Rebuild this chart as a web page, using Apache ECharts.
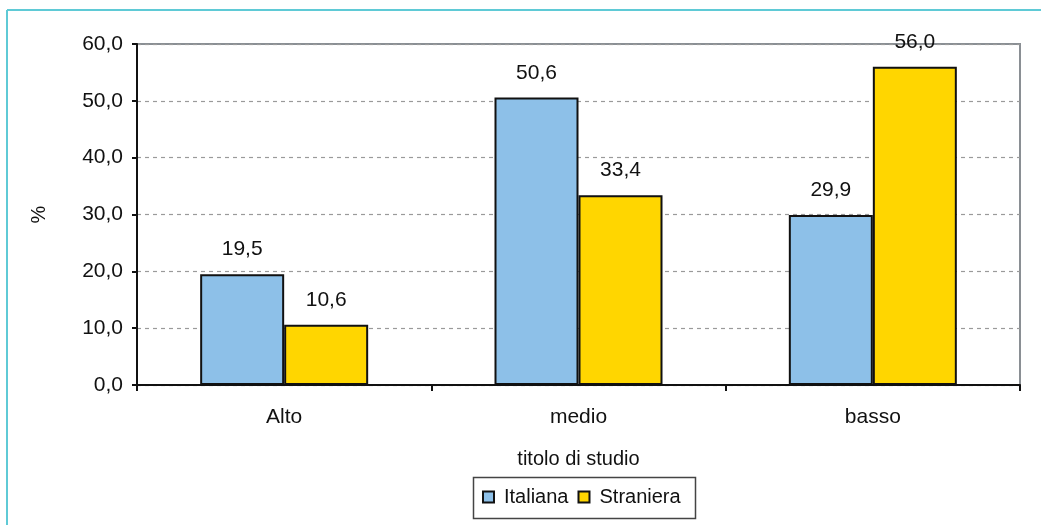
<!DOCTYPE html>
<html>
<head>
<meta charset="utf-8">
<script src="https://cdn.jsdelivr.net/npm/echarts@6/dist/echarts.min.js"></script>
<style>
  html, body { margin: 0; padding: 0; background: #ffffff; }
  #chart { width: 1041px; height: 525px; }
</style>
</head>
<body>
<div id="chart"></div>
<script>
// Titolo di studio: quota percentuale per cittadinanza
const categories = ['Alto', 'medio', 'basso'];
const italiana = [19.5, 50.6, 29.9];
const straniera = [10.6, 33.4, 56.0];
const seriesNames = ['Italiana', 'Straniera'];

const FONT = '"Liberation Sans", Arial, sans-serif';
const fmt = v => Number(v).toFixed(1).replace('.', ',');

const chart = echarts.init(document.getElementById('chart'), null, { renderer: 'canvas' });

const barStyle = color => ({ color: color, borderColor: '#111111', borderWidth: 2 });

chart.setOption({
  animation: false,
  backgroundColor: '#ffffff',
  textStyle: { fontFamily: FONT },
  grid: {
    left: 137, right: 21, top: 44, bottom: 140,
    show: true, borderColor: '#8a8f94', borderWidth: 2, backgroundColor: 'transparent'
  },
  graphic: [
    // outer frame (left and top edges)
    { type: 'line', shape: { x1: 7, y1: 10, x2: 7, y2: 525 }, style: { stroke: '#5fcad6', lineWidth: 2 } },
    { type: 'line', shape: { x1: 7, y1: 10, x2: 1041, y2: 10 }, style: { stroke: '#5fcad6', lineWidth: 2 } },
    // legend box
    { type: 'rect', shape: { x: 473.5, y: 477.5, width: 222, height: 41 }, style: { fill: 'none', stroke: '#444444', lineWidth: 1.5 }, z: 0 }
  ],
  legend: {
    data: seriesNames,
    left: 482, top: 487,
    padding: 0,
    itemWidth: 11, itemHeight: 11, itemGap: 9,
    icon: 'rect',
    textStyle: { fontFamily: FONT, fontSize: 20, color: '#111111', padding: [0, 0, 0, 5] }
  },
  xAxis: {
    type: 'category',
    data: categories,
    name: 'titolo di studio',
    nameLocation: 'middle',
    nameGap: 64,
    nameTextStyle: { fontFamily: FONT, fontSize: 20, color: '#111111' },
    axisLine: { lineStyle: { color: '#111111', width: 2 } },
    axisTick: { show: true, length: 6, lineStyle: { color: '#111111', width: 2 } },
    axisLabel: { fontFamily: FONT, fontSize: 21, color: '#111111', margin: 22 },
    splitLine: { show: false }
  },
  yAxis: {
    type: 'value',
    min: 0, max: 60, interval: 10,
    name: '%',
    nameLocation: 'middle',
    nameGap: 88,
    nameTextStyle: { fontFamily: FONT, fontSize: 20, color: '#111111' },
    axisLine: { show: true, lineStyle: { color: '#111111', width: 2 } },
    axisTick: { show: true, length: 5, lineStyle: { color: '#111111', width: 2 } },
    axisLabel: { fontFamily: FONT, fontSize: 21, color: '#111111', margin: 14, formatter: fmt },
    splitLine: { show: true, lineStyle: { color: '#9a9a9a', width: 1.2, type: [4, 4] } }
  },
  series: [
    {
      name: seriesNames[0], type: 'bar', data: italiana,
      barWidth: 84, barGap: '0%',
      itemStyle: barStyle('#8dc0e8'),
      label: { show: true, position: 'top', distance: 14, formatter: p => fmt(p.value),
               fontFamily: FONT, fontSize: 21, color: '#111111' }
    },
    {
      name: seriesNames[1], type: 'bar', data: straniera,
      barWidth: 84, barGap: '0%',
      itemStyle: barStyle('#ffd600'),
      label: { show: true, position: 'top', distance: 14, formatter: p => fmt(p.value),
               fontFamily: FONT, fontSize: 21, color: '#111111' }
    }
  ]
});
</script>
</body>
</html>
